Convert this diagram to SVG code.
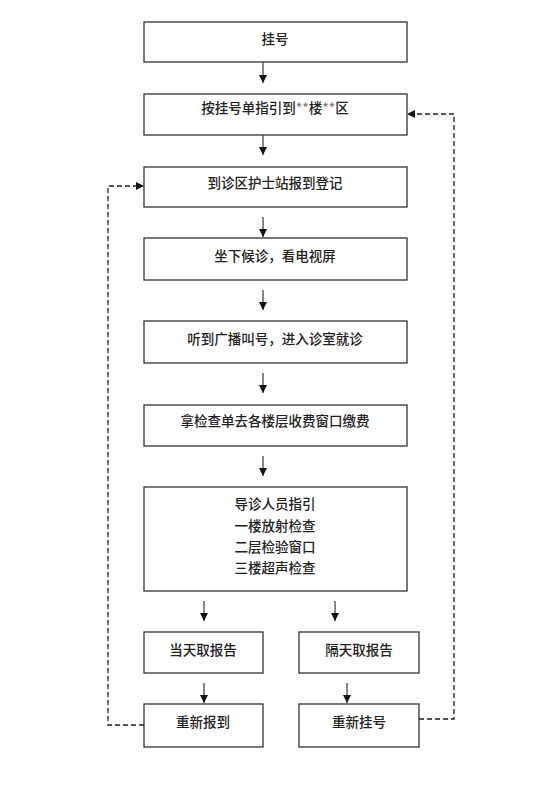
<svg xmlns="http://www.w3.org/2000/svg" width="550" height="809" viewBox="0 0 550 809">
<style>
.box{fill:#fff;stroke:#333;stroke-width:1.3}
.t{font-family:"Noto Sans CJK SC","Noto Sans",sans-serif;font-size:13.5px;font-weight:500;fill:#222;text-anchor:middle;dominant-baseline:central}
.ar{stroke:#111;stroke-width:1;fill:none;marker-end:url(#ah)}
.dl{stroke:#222;stroke-width:1.3;fill:none;stroke-dasharray:5,3}
</style>
<defs>
<marker id="ah" viewBox="0 0 8 8" refX="8" refY="4" markerWidth="8" markerHeight="8" markerUnits="userSpaceOnUse" orient="auto">
<path d="M0,0 L8,4 L0,8 Z" fill="#111"/>
</marker>
</defs>
<rect width="550" height="809" fill="#fff"/>
<g id="connectors">
<line class="ar" x1="263" y1="62" x2="263" y2="83"/>
<line class="ar" x1="263" y1="135" x2="263" y2="155"/>
<line class="ar" x1="263" y1="217" x2="263" y2="237"/>
<line class="ar" x1="263" y1="290" x2="263" y2="310"/>
<line class="ar" x1="263" y1="373" x2="263" y2="393"/>
<line class="ar" x1="263" y1="456" x2="263" y2="476"/>
<line class="ar" x1="204" y1="601" x2="204" y2="621"/>
<line class="ar" x1="335" y1="601" x2="335" y2="621"/>
<line class="ar" x1="204" y1="683" x2="204" y2="703"/>
<line class="ar" x1="347" y1="683" x2="347" y2="703"/>
<polyline class="dl" points="144,725 108,725 108,186 137,186"/>
<path d="M136,182 L144,186 L136,190 Z" fill="#111"/>
<polyline class="dl" points="419,719 454,719 454,114 415,114"/>
<path d="M415,110 L407,114 L415,118 Z" fill="#111"/>
</g>
<g id="n1"><rect class="box" x="144" y="22" width="263" height="40"/><text class="t" x="275" y="38">挂号</text></g>
<g id="n2"><rect class="box" x="144" y="94" width="263" height="41"/><text class="t" x="275" y="107">按挂号单指引到<tspan fill="#8a7a80">**</tspan>楼<tspan fill="#8a7a80">**</tspan>区</text></g>
<g id="n3"><rect class="box" x="144" y="167" width="263" height="40"/><text class="t" x="275" y="182">到诊区护士站报到登记</text></g>
<g id="n4"><rect class="box" x="144" y="238" width="263" height="42"/><text class="t" x="275" y="255">坐下候诊，看电视屏</text></g>
<g id="n5"><rect class="box" x="144" y="321" width="263" height="42"/><text class="t" x="275" y="338">听到广播叫号，进入诊室就诊</text></g>
<g id="n6"><rect class="box" x="144" y="405" width="263" height="41"/><text class="t" x="275" y="420">拿检查单去各楼层收费窗口缴费</text></g>
<g id="n7"><rect class="box" x="144" y="487" width="263" height="104"/>
<text class="t" x="275" y="503">导诊人员指引</text>
<text class="t" x="275" y="525">一楼放射检查</text>
<text class="t" x="275" y="546">二层检验窗口</text>
<text class="t" x="275" y="567">三楼超声检查</text></g>
<g id="n8"><rect class="box" x="144" y="632" width="119" height="41"/><text class="t" x="203" y="649">当天取报告</text></g>
<g id="n9"><rect class="box" x="299" y="632" width="120" height="41"/><text class="t" x="359" y="649">隔天取报告</text></g>
<g id="n10"><rect class="box" x="144" y="704" width="119" height="43"/><text class="t" x="203" y="721">重新报到</text></g>
<g id="n11"><rect class="box" x="299" y="704" width="120" height="43"/><text class="t" x="359" y="721">重新挂号</text></g>
</svg>
